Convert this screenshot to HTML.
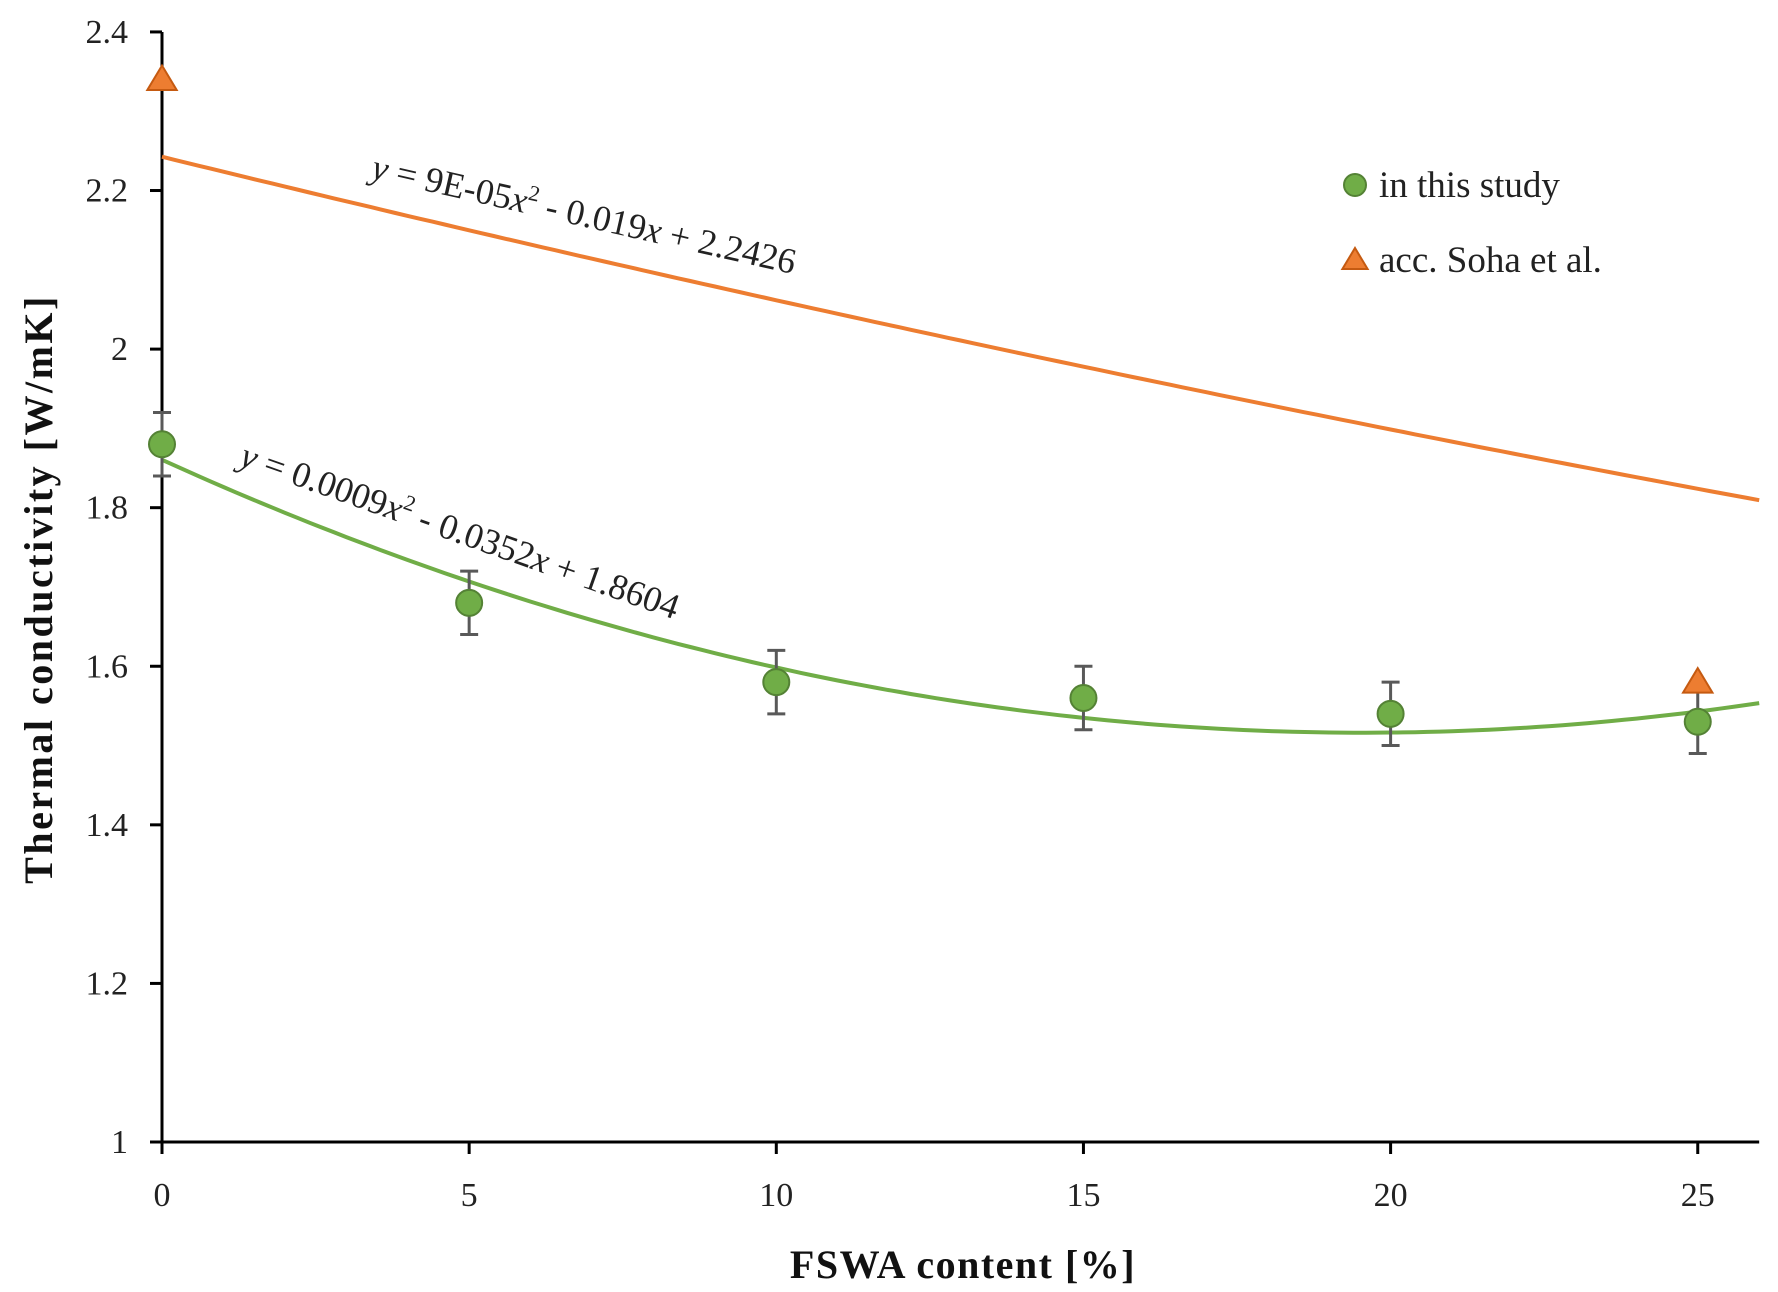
<!DOCTYPE html>
<html><head><meta charset="utf-8"><style>
html,body{margin:0;padding:0;background:#fff;}
svg{display:block;font-family:"Liberation Serif",serif;}
</style></head><body>
<svg id="chart" width="1778" height="1292" viewBox="0 0 1778 1292" xmlns="http://www.w3.org/2000/svg">
</svg>
<script>
const xTicks=[0,5,10,15,20,25];
const yTicks=[1,1.2,1.4,1.6,1.8,2,2.2,2.4];
const yTickLabels=["1","1.2","1.4","1.6","1.8","2","2.2","2.4"];
const studyX=[0,5,10,15,20,25];
const studyY=[1.88,1.68,1.58,1.56,1.54,1.53];
const studyErr=[0.04,0.04,0.04,0.04,0.04,0.04];
const sohaX=[0,25];
const sohaY=[2.34,1.58];
const studyFit=[0.0009,-0.0352,1.8604];
const sohaFit=[0.00009,-0.019,2.2426];

const X0=162,XS=61.43,Y0=1142,YS=792.9,XMAX=26;
const sx=v=>X0+v*XS, sy=v=>Y0-(v-1)*YS;
const NS="http://www.w3.org/2000/svg";
const svg=document.getElementById('chart');
function mk(tag,attrs,parent){const e=document.createElementNS(NS,tag);for(const k in attrs)e.setAttribute(k,attrs[k]);(parent||svg).appendChild(e);return e;}

let ax=mk('line',{x1:sx(0),y1:sy(2.4),x2:sx(0),y2:sy(1)+12,stroke:'#000','stroke-width':3});


let bx=mk('line',{x1:sx(0)-12,y1:sy(1),x2:sx(XMAX),y2:sy(1),stroke:'#000','stroke-width':3});


yTicks.forEach((t,i)=>{
  const l=mk('line',{x1:sx(0)-12,y1:sy(t),x2:sx(0),y2:sy(t),stroke:'#000','stroke-width':3});
  
  
  const tx=mk('text',{x:sx(0)-34,y:sy(t)+11,'text-anchor':'end','font-size':34,fill:'#222'});
  tx.textContent=yTickLabels[i];
  
  
});
xTicks.forEach(t=>{
  const l=mk('line',{x1:sx(t),y1:sy(1),x2:sx(t),y2:sy(1)+12,stroke:'#000','stroke-width':3});
  
  
  const tx=mk('text',{x:sx(t),y:sy(1)+64,'text-anchor':'middle','font-size':34,fill:'#222'});
  tx.textContent=String(t);
  
  
});
let yt=mk('text',{x:0,y:0,transform:'translate(52,589) rotate(-90)','text-anchor':'middle','font-size':40,'font-weight':'bold','letter-spacing':2.5,fill:'#111'});
yt.textContent='Thermal conductivity [W/mK]';


let xt=mk('text',{x:963,y:1278,'text-anchor':'middle','font-size':40,'font-weight':'bold','letter-spacing':1.5,fill:'#111'});
xt.textContent='FSWA content [%]';



function fitPath(c){let d='';for(let i=0;i<=130;i++){const x=XMAX*i/130;const y=c[0]*x*x+c[1]*x+c[2];d+=(i?'L':'M')+sx(x).toFixed(1)+','+sy(y).toFixed(1);}return d;}
let of=mk('path',{d:fitPath(sohaFit),fill:'none',stroke:'#ed7d31','stroke-width':4});


let gf=mk('path',{d:fitPath(studyFit),fill:'none',stroke:'#70ad47','stroke-width':4});



let e1=mk('text',{x:0,y:0,transform:'translate(370,178) rotate(12.8)','font-size':36,fill:'#222'});
e1.innerHTML='<tspan font-style="italic">y</tspan> = 9E-05<tspan font-style="italic">x</tspan><tspan font-size="22" dy="-14">2</tspan><tspan dy="14"> - 0.019</tspan><tspan font-style="italic">x</tspan> + 2.2426';


let e2=mk('text',{x:0,y:0,transform:'translate(238,465) rotate(19.5)','font-size':36,fill:'#222'});
e2.innerHTML='<tspan font-style="italic">y</tspan> = 0.0009<tspan font-style="italic">x</tspan><tspan font-size="22" dy="-14">2</tspan><tspan dy="14"> - 0.0352</tspan><tspan font-style="italic">x</tspan> + 1.8604';



studyX.forEach((x,i)=>{
  const cx=sx(x),top=sy(studyY[i]+studyErr[i]),bot=sy(studyY[i]-studyErr[i]);
  const g=mk('g',{stroke:'#595959','stroke-width':3});
  
  
  mk('line',{x1:cx,y1:top,x2:cx,y2:bot},g);
  mk('line',{x1:cx-9,y1:top,x2:cx+9,y2:top},g);
  mk('line',{x1:cx-9,y1:bot,x2:cx+9,y2:bot},g);
});
studyX.forEach((x,i)=>{
  const c=mk('circle',{cx:sx(x),cy:sy(studyY[i]),r:13,fill:'#70ad47',stroke:'#548235','stroke-width':2});
  
  
});
function tri(cx,cy,s){return `${cx},${cy-s} ${cx+s*1.05},${cy+s*0.75} ${cx-s*1.05},${cy+s*0.75}`;}
sohaX.forEach((x,i)=>{
  const p=mk('polygon',{points:tri(sx(x),sy(sohaY[i]),14),fill:'#ed7d31',stroke:'#c55a11','stroke-width':2});
  
  
});

const lg=mk('g',{});


let lc=mk('circle',{cx:1355,cy:185,r:11,fill:'#70ad47',stroke:'#548235','stroke-width':2},lg);


let l1=mk('text',{x:1379,y:197,'font-size':37,fill:'#222'},lg);
l1.textContent='in this study';


let lt=mk('polygon',{points:tri(1355,260,12),fill:'#ed7d31',stroke:'#c55a11','stroke-width':2},lg);


let l2=mk('text',{x:1379,y:272,'font-size':37,fill:'#222'},lg);
l2.textContent='acc. Soha et al.';


</script>
</body></html>
